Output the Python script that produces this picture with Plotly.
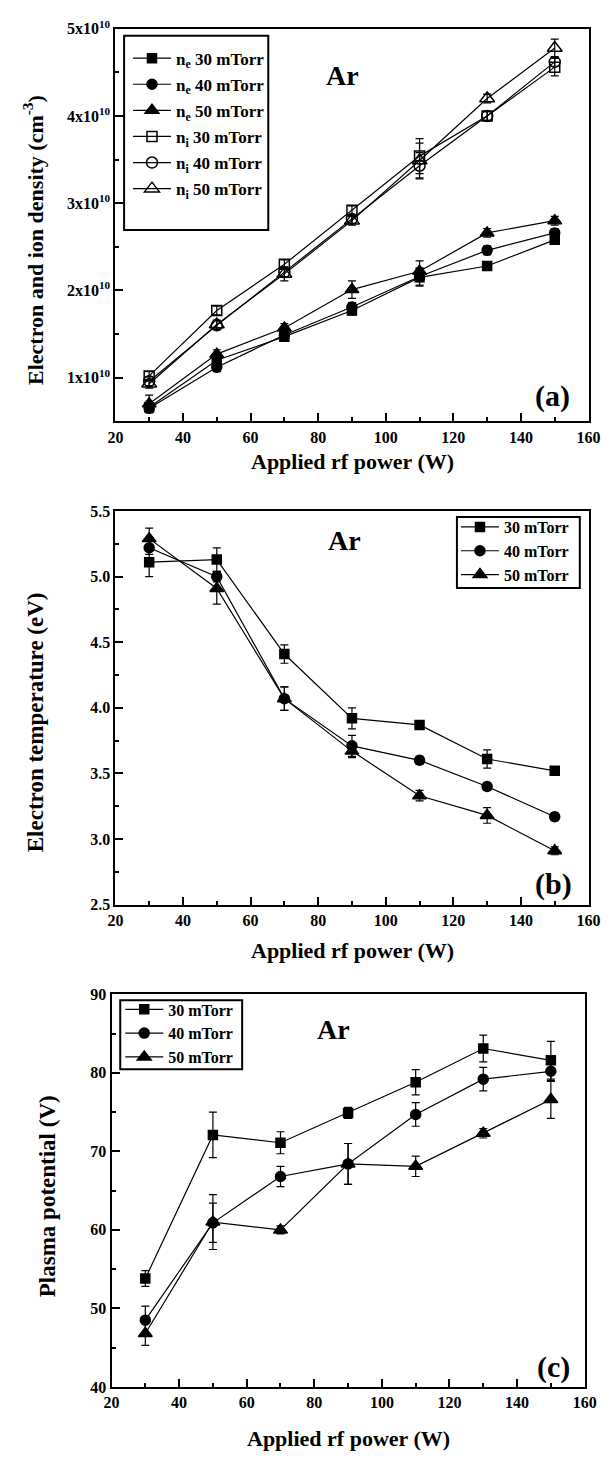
import plotly.graph_objects as go

W, H = 616, 1461

power = [30, 50, 70, 90, 110, 130, 150]

# Panel (a): electron / ion density, in units of 1e10 cm^-3
ne_30 = [0.66, 1.20, 1.47, 1.77, 2.15, 2.28, 2.58]
ne_40 = [0.65, 1.12, 1.49, 1.81, 2.16, 2.46, 2.66]
ne_50 = [0.70, 1.27, 1.57, 2.01, 2.22, 2.66, 2.80]
ni_30 = [1.02, 1.77, 2.30, 2.92, 3.54, 4.00, 4.56]
ni_40 = [0.96, 1.60, 2.21, 2.82, 3.43, 4.00, 4.62]
ni_50 = [0.93, 1.61, 2.19, 2.80, 3.49, 4.20, 4.78]
ne_30_err = [0.05, 0.05, 0.05, 0.05, 0.10, 0.05, 0.05]
ne_40_err = [0.05, 0.05, 0.05, 0.05, 0.10, 0.05, 0.05]
ne_50_err = [0.10, 0.05, 0.05, 0.10, 0.12, 0.05, 0.05]
ni_30_err = [0.05, 0.05, 0.05, 0.05, 0.20, 0.05, 0.10]
ni_40_err = [0.05, 0.05, 0.05, 0.05, 0.15, 0.05, 0.05]
ni_50_err = [0.05, 0.05, 0.08, 0.05, 0.20, 0.05, 0.10]
density_unit = 1e10
density_ticks = [1, 2, 3, 4, 5]

# Panel (b): electron temperature (eV)
te_30 = [5.11, 5.13, 4.41, 3.92, 3.87, 3.61, 3.52]
te_40 = [5.22, 5.00, 4.07, 3.71, 3.60, 3.40, 3.17]
te_50 = [5.29, 4.91, 4.07, 3.67, 3.33, 3.18, 2.91]
te_30_err = [0.11, 0.09, 0.07, 0.08, 0.03, 0.07, 0.02]
te_40_err = [0.05, 0.04, 0.09, 0.08, 0.03, 0.03, 0.03]
te_50_err = [0.08, 0.12, 0.09, 0.05, 0.04, 0.06, 0.03]

# Panel (c): plasma potential (V)
vp_30 = [53.8, 72.1, 71.1, 74.9, 78.8, 83.1, 81.6]
vp_40 = [48.5, 60.9, 66.8, 68.4, 74.7, 79.2, 80.2]
vp_50 = [46.8, 61.0, 60.0, 68.4, 68.1, 72.3, 76.6]
vp_30_err = [1.0, 2.9, 1.4, 0.7, 1.6, 1.7, 2.4]
vp_40_err = [1.8, 2.5, 1.3, 2.6, 1.5, 1.5, 1.3]
vp_50_err = [1.5, 3.5, 0.5, 2.6, 1.3, 0.6, 2.4]

FONT = "Liberation Serif"
BLACK = "black"


def px_x(x):
    return x / W


def px_y(y):
    return 1 - y / H


fig = go.Figure()


def add(y, err, name, symbol, size, xa, ya, legend, group, scale=1.0):
    fig.add_trace(go.Scatter(
        x=power, y=[v * scale for v in y],
        error_y=dict(type="data", array=[e * scale for e in err], visible=True,
                     color=BLACK, thickness=1.2, width=4),
        mode="lines+markers", name=name,
        line=dict(color=BLACK, width=1.2),
        marker=dict(symbol=symbol, size=size, color=BLACK,
                    line=dict(color=BLACK, width=1.5)),
        xaxis=xa, yaxis=ya, legend=legend, legendgroup=group,
    ))


# (a)
add(ne_30, ne_30_err, "n<sub>e</sub> 30 mTorr", "square", 9, "x", "y", "legend", "a1", density_unit)
add(ne_40, ne_40_err, "n<sub>e</sub> 40 mTorr", "circle", 10, "x", "y", "legend", "a2", density_unit)
add(ne_50, ne_50_err, "n<sub>e</sub> 50 mTorr", "triangle-up", 12, "x", "y", "legend", "a3", density_unit)
add(ni_30, ni_30_err, "n<sub>i</sub> 30 mTorr", "square-open", 10, "x", "y", "legend", "a4", density_unit)
add(ni_40, ni_40_err, "n<sub>i</sub> 40 mTorr", "circle-open", 11, "x", "y", "legend", "a5", density_unit)
add(ni_50, ni_50_err, "n<sub>i</sub> 50 mTorr", "triangle-up-open", 13, "x", "y", "legend", "a6", density_unit)
# (b)
add(te_30, te_30_err, "30 mTorr", "square", 9, "x2", "y2", "legend2", "b1")
add(te_40, te_40_err, "40 mTorr", "circle", 10, "x2", "y2", "legend2", "b2")
add(te_50, te_50_err, "50 mTorr", "triangle-up", 12, "x2", "y2", "legend2", "b3")
# (c)
add(vp_30, vp_30_err, "30 mTorr", "square", 9, "x3", "y3", "legend3", "c1")
add(vp_40, vp_40_err, "40 mTorr", "circle", 10, "x3", "y3", "legend3", "c2")
add(vp_50, vp_50_err, "50 mTorr", "triangle-up", 12, "x3", "y3", "legend3", "c3")

TICKFONT = dict(family=FONT, size=16, color=BLACK, weight="bold")


def xaxis(domain, anchor):
    return dict(domain=domain, anchor=anchor, range=[20, 160], tick0=20, dtick=20,
                ticks="inside", ticklen=8, tickwidth=2, tickcolor=BLACK,
                showline=True, linecolor=BLACK, linewidth=2, mirror=True,
                showgrid=False, zeroline=False,
                tickfont=TICKFONT,
                minor=dict(dtick=10, ticks="inside", ticklen=4, tickwidth=1.5,
                           tickcolor=BLACK, showgrid=False))


def yaxis(domain, anchor, rng, **kw):
    d = dict(domain=domain, anchor=anchor, range=rng,
             ticks="inside", ticklen=8, tickwidth=2, tickcolor=BLACK,
             showline=True, linecolor=BLACK, linewidth=2, mirror=True,
             showgrid=False, zeroline=False,
             tickfont=TICKFONT)
    d.update(kw)
    return d


dom_x_ab = [px_x(111), px_x(600)]
dom_x_c = [px_x(107), px_x(596)]
dom_ya = [px_y(416), px_y(18)]
dom_yb = [px_y(906), px_y(507)]
dom_yc = [px_y(1395), px_y(997)]

LEGFONT_A = dict(family=FONT, size=17, color=BLACK, weight="bold")
LEGFONT = dict(family=FONT, size=16, color=BLACK, weight="bold")

fig.update_layout(
    width=W, height=H, margin=dict(l=0, r=0, t=0, b=0),
    paper_bgcolor="white", plot_bgcolor="white",
    font=dict(family=FONT, color=BLACK, weight="bold"),
    xaxis=xaxis(dom_x_ab, "y"),
    xaxis2=xaxis(dom_x_ab, "y2"),
    xaxis3=xaxis(dom_x_c, "y3"),
    yaxis=yaxis(dom_ya, "x", [0.5 * density_unit, 5 * density_unit],
                tickvals=[t * density_unit for t in density_ticks],
                ticktext=[f"{t}x10<sup>10</sup>" for t in density_ticks],
                minor=dict(dtick=0.5 * density_unit, ticks="inside", ticklen=4,
                           tickwidth=1.5, tickcolor=BLACK, showgrid=False)),
    yaxis2=yaxis(dom_yb, "x2", [2.5, 5.5], tick0=2.5, dtick=0.5, tickformat=".1f",
                 minor=dict(dtick=0.25, ticks="inside", ticklen=4, tickwidth=1.5,
                            tickcolor=BLACK, showgrid=False)),
    yaxis3=yaxis(dom_yc, "x3", [40, 90], tick0=40, dtick=10,
                 minor=dict(dtick=5, ticks="inside", ticklen=4, tickwidth=1.5,
                            tickcolor=BLACK, showgrid=False)),
    legend=dict(x=px_x(124), y=px_y(30), xanchor="left", yanchor="top",
                bgcolor="rgba(0,0,0,0)", borderwidth=0, tracegroupgap=1,
                itemwidth=38, font=LEGFONT_A),
    legend2=dict(x=px_x(463), y=px_y(506), xanchor="left", yanchor="top",
                 bgcolor="rgba(0,0,0,0)", borderwidth=0, tracegroupgap=0,
                 itemwidth=38, font=LEGFONT),
    legend3=dict(x=px_x(116), y=px_y(995), xanchor="left", yanchor="top",
                 bgcolor="rgba(0,0,0,0)", borderwidth=0, tracegroupgap=0,
                 itemwidth=38, font=LEGFONT),
    showlegend=True,
)

# legend frames
for (x0, y0, x1, y1) in [(120, 25, 269, 222), (464, 513, 591, 585), (116, 1003, 242, 1073)]:
    fig.add_shape(type="rect", xref="paper", yref="paper",
                  x0=px_x(x0), x1=px_x(x1), y0=px_y(y1), y1=px_y(y0),
                  line=dict(color=BLACK, width=2), fillcolor="rgba(0,0,0,0)", layer="above")

annots = [
    ("Ar", 346, 65, 28, 0), ("Ar", 348, 537, 28, 0), ("Ar", 336, 1033, 28, 0),
    ("(a)", 563, 390, 30, 0), ("(b)", 564, 885, 30, 0), ("(c)", 564, 1375, 30, 0),
    ("Applied rf power (W)", 356, 457, 22, 0),
    ("Applied rf power (W)", 356, 953, 22, 0),
    ("Applied rf power (W)", 352, 1447, 22, 0),
    ("Electron and ion density (cm<sup>-3</sup>)", 26, 232, 22, -90),
    ("Electron temperature (eV)", 28, 721, 23, -90),
    ("Plasma potential (V)", 41, 1202, 23, -90),
]
for text, x, y, size, ang in annots:
    fig.add_annotation(text=text, x=px_x(x), y=px_y(y), xref="paper", yref="paper",
                       xanchor="center", yanchor="middle", showarrow=False,
                       textangle=ang, font=dict(size=size, color=BLACK, family=FONT, weight="bold"))

fig.write_html("out.html")
